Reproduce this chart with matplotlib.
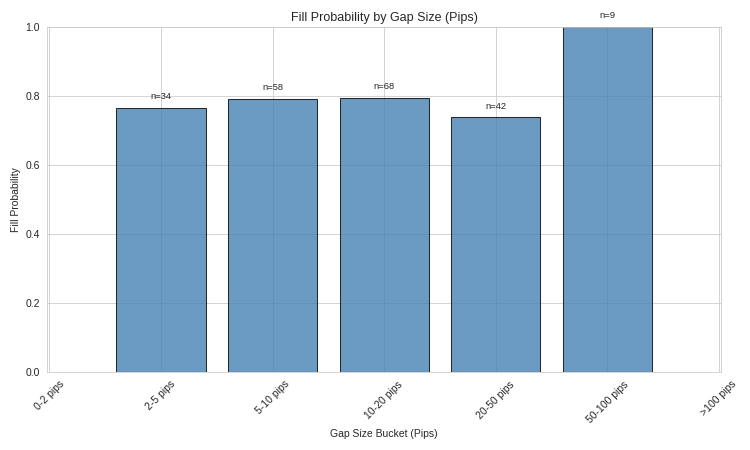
import matplotlib
matplotlib.use("Agg")
import matplotlib.pyplot as plt
import seaborn as sns
import numpy as np

buckets = ['0-2 pips', '2-5 pips', '5-10 pips', '10-20 pips', '20-50 pips', '50-100 pips', '>100 pips']
fill_prob = [np.nan, 0.765, 0.793, 0.794, 0.738, 1.0, np.nan]
counts = [0, 34, 58, 68, 42, 9, 0]

sns.set_style("whitegrid")
plt.rcParams['font.family'] = ['Liberation Sans', 'DejaVu Sans']

fig, ax = plt.subplots(figsize=(10, 6), dpi=75)
x = np.arange(len(buckets))
ax.bar(x, fill_prob, width=0.8, color='steelblue', alpha=0.8, edgecolor='black', linewidth=1)

for xi, p, n in zip(x, fill_prob, counts):
    if n > 0:
        ax.text(xi, p + 0.02, f"n={n}", ha='center', va='bottom', fontsize=9)

ax.set_xticks(x)
ax.set_xticklabels(buckets, rotation=45, ha='center')
ax.set_xlim(-0.02, 6.02)
ax.set_ylim(0, 1.0)
ax.set_title("Fill Probability by Gap Size (Pips)", fontsize=12)
ax.set_xlabel("Gap Size Bucket (Pips)")
ax.set_ylabel("Fill Probability")

plt.tight_layout()
plt.savefig("out.png")
